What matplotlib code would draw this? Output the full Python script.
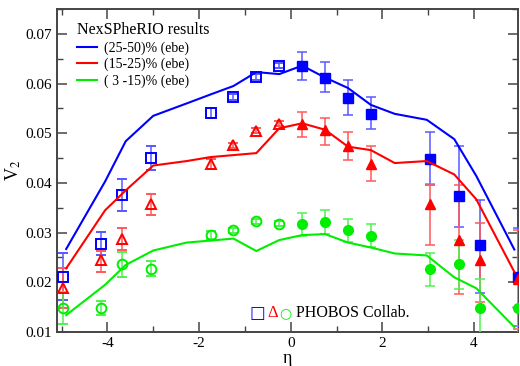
import matplotlib
matplotlib.use("Agg")
import matplotlib.pyplot as plt
import numpy as np
from matplotlib.ticker import MultipleLocator

plt.rcParams['font.family'] = 'serif'
plt.rcParams['font.serif'] = ['Liberation Serif', 'DejaVu Serif']
plt.rcParams['mathtext.fontset'] = 'stix'
plt.rcParams['axes.unicode_minus'] = False

# PHOBOS points
eta_data = [-4.97, -4.14, -3.68, -3.04, -1.75, -1.25, -0.75, -0.25,
            0.25, 0.75, 1.25, 1.75, 3.04, 3.68, 4.14, 4.97]

v2_25_50 = [0.0211, 0.0278, 0.0375, 0.0450, 0.0541, 0.0572, 0.0614, 0.0636,
            0.0636, 0.0612, 0.0571, 0.0539, 0.0449, 0.0374, 0.0276, 0.0211]
up_25_50 = [0.0047, 0.0024, 0.0032, 0.0024, 0.0010, 0.0006, 0.0006, 0.0005,
            0.0028, 0.0031, 0.0037, 0.0034, 0.0054, 0.0100, 0.0089, 0.0098]
lo_25_50 = [0.0047, 0.0024, 0.0032, 0.0024, 0.0010, 0.0006, 0.0006, 0.0005,
            0.0028, 0.0030, 0.0035, 0.0031, 0.0054, 0.0062, 0.0097, 0.0098]

v2_15_25 = [0.0189, 0.0244, 0.0288, 0.0358, 0.0438, 0.0476, 0.0505, 0.0519,
            0.0519, 0.0506, 0.0474, 0.0439, 0.0358, 0.0286, 0.0245, 0.0206]
up_15_25 = [0.0040, 0.0020, 0.0022, 0.0020, 0.0010, 0.0005, 0.0005, 0.0005,
            0.0023, 0.0025, 0.0028, 0.0035, 0.0040, 0.0109, 0.0075, 0.0100]
lo_15_25 = [0.0040, 0.0023, 0.0022, 0.0023, 0.0010, 0.0005, 0.0005, 0.0005,
            0.0026, 0.0029, 0.0028, 0.0035, 0.0083, 0.0109, 0.0085, 0.0100]

v2_3_15 = [0.0148, 0.0148, 0.0236, 0.0227, 0.0295, 0.0305, 0.0323, 0.0318,
           0.0317, 0.0322, 0.0305, 0.0294, 0.0226, 0.0236, 0.0148, 0.0148]
err_3_15 = [0.0032, 0.0014, 0.0025, 0.0015, 0.0008, 0.0005, 0.0005, 0.0005,
            0.0023, 0.0024, 0.0023, 0.0023, 0.0033, 0.0050, 0.0058, 0.0060]

# NexSPheRIO curves
eta_model = [-4.9, -4.05, -3.6, -3.0, -2.27, -1.75, -1.25, -0.75, -0.25,
             0.25, 0.75, 1.25, 1.75, 2.27, 2.97, 3.57, 4.05, 4.88]
model_25_50 = [0.0267, 0.0403, 0.0484, 0.0535, 0.0560, 0.0578, 0.0595, 0.0623, 0.0619,
               0.0636, 0.0612, 0.0591, 0.0557, 0.0539, 0.0527, 0.0488, 0.0414, 0.0266]
model_15_25 = [0.0228, 0.0345, 0.0385, 0.0435, 0.0444, 0.0452, 0.0456, 0.0460, 0.0510,
               0.0520, 0.0507, 0.0473, 0.0466, 0.0440, 0.0444, 0.0417, 0.0367, 0.0221]
model_3_15 = [0.0134, 0.0195, 0.0235, 0.0264, 0.0280, 0.0284, 0.0288, 0.0263, 0.0285,
              0.0295, 0.0297, 0.0280, 0.0270, 0.0258, 0.0254, 0.0210, 0.0188, 0.0110]

labels = ['(25-50)% (ebe)', '(15-25)% (ebe)', '( 3 -15)% (ebe)']
colors = ['#0000ff', '#ff0000', '#00ee00']
ecolors = [(0.35, 0.35, 1.0), (1.0, 0.35, 0.35), (0.3, 0.95, 0.3)]

fig = plt.figure(figsize=(5.2, 3.66), dpi=100)
ax = fig.add_axes([57/520, 34/366, 461/520, 323/366])

eta = np.array(eta_data)
neg = eta < 0
pos = ~neg

series = [
    (v2_25_50, lo_25_50, up_25_50, 's', 7),
    (v2_15_25, lo_15_25, up_15_25, '^', 7.5),
    (v2_3_15, err_3_15, err_3_15, 'o', 7),
]

for (v, lo, up, mk, ms), c, ec in zip(series, colors, ecolors):
    v = np.array(v); lo = np.array(lo); up = np.array(up)
    ax.errorbar(eta[neg], v[neg], yerr=[lo[neg], up[neg]], fmt=mk, ms=ms,
                mfc='none', mec=c, mew=1.4, ecolor=ec, elinewidth=1.1,
                capsize=3.5, capthick=1.1, zorder=3)
    ax.errorbar(eta[pos], v[pos], yerr=[lo[pos], up[pos]], fmt=mk, ms=ms,
                mfc=c, mec=c, ecolor=ec, elinewidth=1.1,
                capsize=3.5, capthick=1.1, zorder=3)

handles = []
for m, c, lab in zip([model_25_50, model_15_25, model_3_15], colors, labels):
    h, = ax.plot(eta_model, m, color=c, lw=1.5, label=lab, zorder=4)
    handles.append(h)

leg = ax.legend(handles=handles, loc='upper left', bbox_to_anchor=(0.026, 0.985),
                title='NexSPheRIO results', title_fontsize=11.5, fontsize=10,
                frameon=False, handlelength=1.45, handletextpad=0.45,
                labelspacing=0.22, alignment='left', borderaxespad=0.2)

# PHOBOS marker key
ax.text(0.435, 0.058, '\u25a1', color='#0000ff', fontsize=12, family='DejaVu Sans',
        transform=ax.transAxes, ha='center', va='center')
ax.text(0.468, 0.058, '\u0394', color='#ff0000', fontsize=12,
        transform=ax.transAxes, ha='center', va='center')
ax.text(0.496, 0.058, '\u25cb', color='#00ee00', fontsize=10, family='DejaVu Sans',
        transform=ax.transAxes, ha='center', va='center')
ax.text(0.518, 0.058, 'PHOBOS Collab.', color='black', fontsize=11.5,
        transform=ax.transAxes, ha='left', va='center')

ax.set_xlim(-5.1, 4.96)
ax.set_ylim(0.01, 0.075)
ax.xaxis.set_major_locator(MultipleLocator(2))
ax.xaxis.set_minor_locator(MultipleLocator(1))
ax.yaxis.set_major_locator(MultipleLocator(0.01))
ax.yaxis.set_minor_locator(MultipleLocator(0.005))
ax.set_yticks([0.01, 0.02, 0.03, 0.04, 0.05, 0.06, 0.07])
ax.set_yticklabels(['0.01', '0.02', '0.03', '0.04', '0.05', '0.06', '0.07'])
ax.tick_params(which='both', direction='in', top=True, right=True, labelsize=11,
               color='#444444')
ax.tick_params(which='major', length=7, width=1.1)
ax.tick_params(which='minor', length=4, width=1.0)
for s in ax.spines.values():
    s.set_linewidth(1.4)
    s.set_color('#444444')

ax.set_xlabel('\u03b7', fontsize=13, labelpad=0)
ax.set_ylabel('V$_2$', fontsize=13, labelpad=2)

plt.savefig('out.png', dpi=100)
